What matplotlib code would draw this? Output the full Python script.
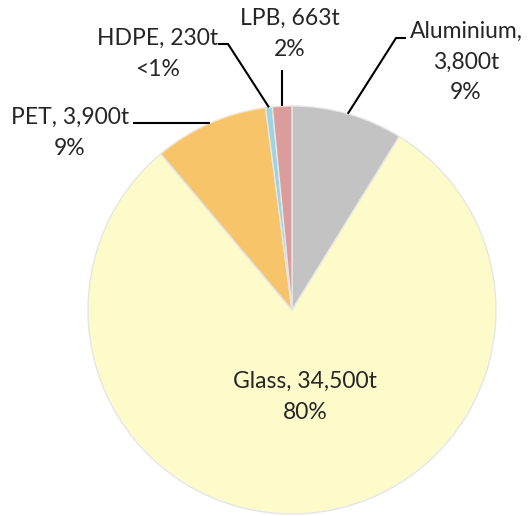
import numpy as np
import matplotlib.pyplot as plt

plt.rcParams['font.family'] = ['Lato', 'DejaVu Sans']

materials = ["Aluminium", "Glass", "PET", "HDPE", "LPB"]
tonnes = [3800, 34500, 3900, 230, 663]
pct_labels = ["9%", "80%", "9%", "<1%", "2%"]
colors = ["#c3c3c3", "#fdfbca", "#f7c46a", "#9dd3e3", "#db9c9c"]


def fmt(name, t, p):
    return f"{name}, {t:,}t\n{p}"


fig = plt.figure(figsize=(5.28, 5.16), dpi=100)
ax = fig.add_axes([0.1667, 0.0039, 0.7727, 0.7907])

wedges, _ = ax.pie(tonnes, colors=colors, startangle=90, counterclock=False,
                   radius=1.0, center=(0, 0),
                   wedgeprops=dict(edgecolor="#e6e6e6", linewidth=1))
ax.set_xlim(-1, 1)
ax.set_ylim(-1, 1)
ax.set_aspect("equal")
ax.axis("off")

# pixel -> data helper (pie centre at 292,310 px, radius 204 px)
def px(x, y):
    return (x - 292) / 204.0, (310 - y) / 204.0

def edge_point(w):
    a = np.deg2rad((w.theta1 + w.theta2) / 2)
    return np.cos(a), np.sin(a)

fs = 16.5
text_kw = dict(fontsize=fs, color="#262626", ha="center", va="center",
               linespacing=1.55, clip_on=False)

# Glass label sits inside the slice
ax.text(*px(305, 397), fmt("Glass", tonnes[1], pct_labels[1]), **text_kw)

# outside labels with leader lines
ax.text(*px(466, 62), f"Aluminium,\n{tonnes[0]:,}t\n{pct_labels[0]}", **text_kw)
ax.text(*px(158, 54), fmt("HDPE", tonnes[3], pct_labels[3]), **text_kw)
ax.text(*px(290, 34), fmt("LPB", tonnes[4], pct_labels[4]), **text_kw)
ax.text(*px(70, 133), fmt("PET", tonnes[2], pct_labels[2]), **text_kw)

line_kw = dict(color="black", linewidth=1.5, solid_capstyle="butt", clip_on=False)

# Aluminium
ex, ey = edge_point(wedges[0])
bx, by = px(396, 38)
cx, cy = px(406, 38)
ax.plot([ex, bx, cx], [ey, by, cy], **line_kw)

# HDPE
ex, ey = edge_point(wedges[3])
bx, by = px(228, 44)
cx, cy = px(218, 44)
ax.plot([ex, bx, cx], [ey, by, cy], **line_kw)

# LPB
ex, ey = edge_point(wedges[4])
bx, by = px(0, 70)
ax.plot([ex, ex], [ey, by], **line_kw)

# PET
ex, ey = edge_point(wedges[2])
bx, by = px(133, 0)
ax.plot([ex, bx], [ey, ey], **line_kw)

fig.savefig("out.png", dpi=100)
